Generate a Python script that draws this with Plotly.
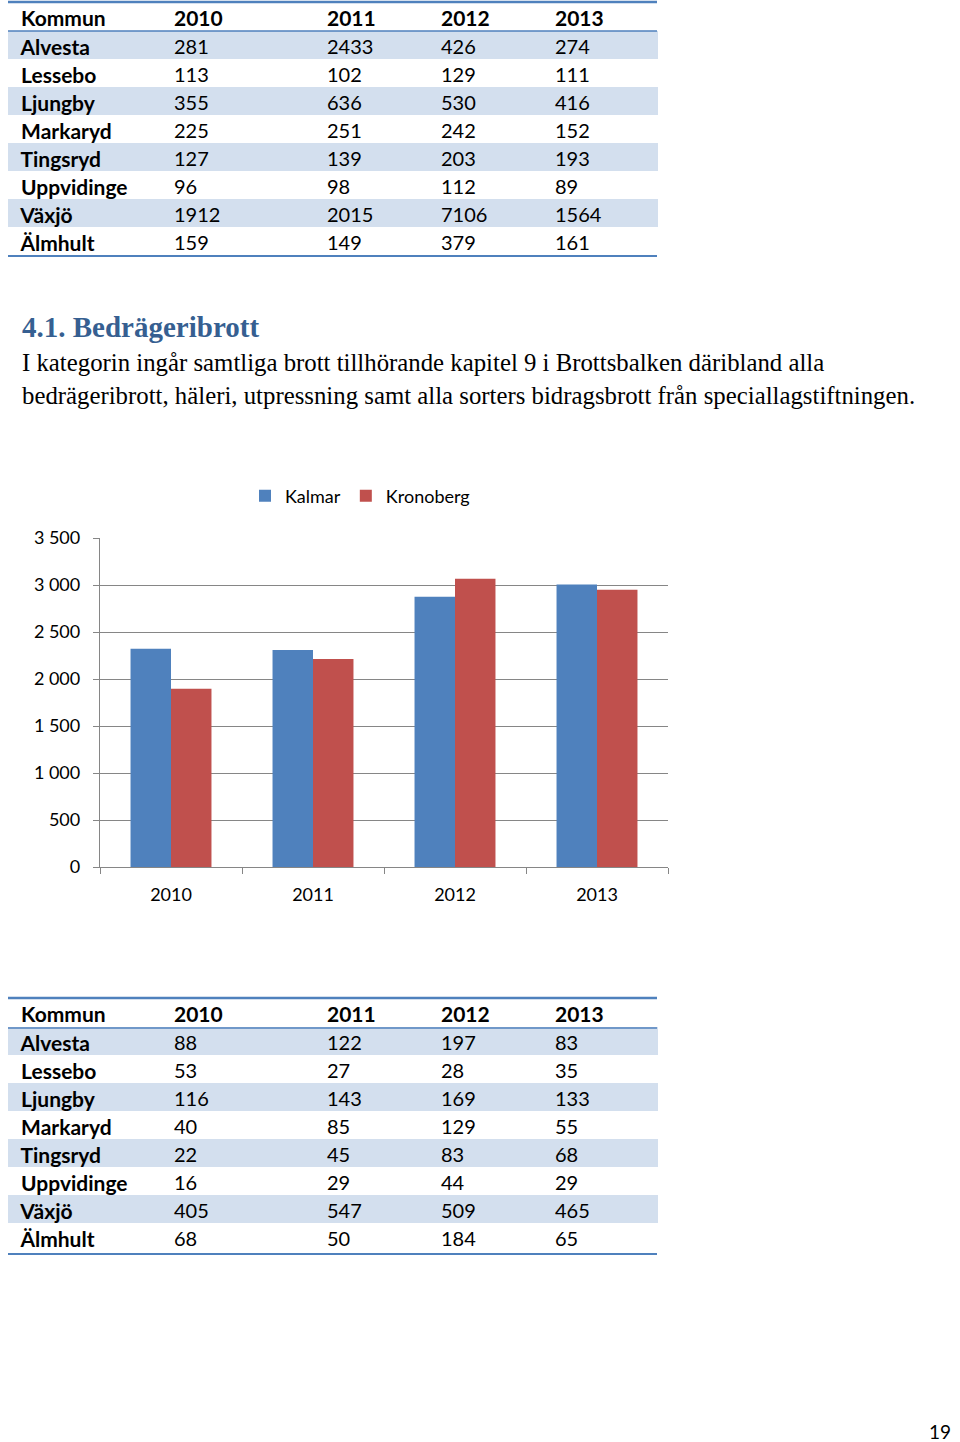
import plotly.graph_objects as go

# ---------------- data ----------------
kommuner = ["Alvesta", "Lessebo", "Ljungby", "Markaryd", "Tingsryd", "Uppvidinge", "Växjö", "Älmhult"]
header = ["Kommun", "2010", "2011", "2012", "2013"]

t1_2010 = [281, 113, 355, 225, 127, 96, 1912, 159]
t1_2011 = [2433, 102, 636, 251, 139, 98, 2015, 149]
t1_2012 = [426, 129, 530, 242, 203, 112, 7106, 379]
t1_2013 = [274, 111, 416, 152, 193, 89, 1564, 161]

t2_2010 = [88, 53, 116, 40, 22, 16, 405, 68]
t2_2011 = [122, 27, 143, 85, 45, 29, 547, 50]
t2_2012 = [197, 28, 169, 129, 83, 44, 509, 184]
t2_2013 = [83, 35, 133, 55, 68, 29, 465, 65]

years = ["2010", "2011", "2012", "2013"]
kalmar = [2323, 2309, 2876, 3004]
kronoberg = [1897, 2213, 3067, 2950]

heading = "4.1. Bedrägeribrott"
para1 = "I kategorin ingår samtliga brott tillhörande kapitel 9 i Brottsbalken däribland alla"
para2 = "bedrägeribrott, häleri, utpressning samt alla sorters bidragsbrott från speciallagstiftningen."
page_no = "19"

# ---------------- styling ----------------
W, H = 960, 1442
BLUE = "#4F81BD"
RED = "#C0504D"
BAND = "#D3DFEE"
GRID = "#868686"
SANS = "Lato"
SERIF = "Liberation Serif"


def py(pix):
    """pixel row from top -> paper fraction"""
    return 1 - pix / H


def px(pix):
    return pix / W


band_fill = [BAND if i % 2 == 0 else "white" for i in range(len(kommuner))]
colw = [158, 153, 114, 114, 110]
first_pad = ["\u00a0", "", "", "", ""]


def make_table(cols, top, bottom):
    return go.Table(
        domain=dict(x=[px(8), px(657)], y=[py(bottom), py(top)]),
        columnwidth=colw,
        header=dict(
            values=header,
            prefix=first_pad,
            align="left",
            height=29,
            fill=dict(color="white"),
            line=dict(color="white", width=0),
            font=dict(family=SANS, size=21, color="black", weight="bold"),
        ),
        cells=dict(
            values=[kommuner] + cols,
            prefix=first_pad,
            align="left",
            height=28,
            fill=dict(color=[band_fill] * 5),
            line=dict(color=[band_fill] * 5, width=1),
            font=dict(
                family=SANS,
                size=[21, 20, 20, 20, 20],
                color="black",
                weight=["bold", "normal", "normal", "normal", "normal"],
            ),
        ),
    )


fig = go.Figure()

fig.add_trace(make_table([t1_2010, t1_2011, t1_2012, t1_2013], 2, 262))
fig.add_trace(make_table([t2_2010, t2_2011, t2_2012, t2_2013], 998, 1258))

fig.add_trace(go.Bar(name="Kalmar", x=years, y=kalmar, marker=dict(color=BLUE, line=dict(width=0))))
fig.add_trace(go.Bar(name="Kronoberg", x=years, y=kronoberg, marker=dict(color=RED, line=dict(width=0))))

shapes = []
for (y, w) in [(2, 2.5), (31, 1.5), (256, 2), (998, 2.5), (1028, 1.5), (1254, 2)]:
    shapes.append(dict(type="line", xref="paper", yref="paper", x0=px(8), x1=px(657),
                       y0=py(y), y1=py(y), line=dict(color=BLUE, width=w)))

annotations = [
    dict(text=heading, x=px(20), y=py(327), xref="paper", yref="paper", xanchor="left",
         yanchor="middle", showarrow=False,
         font=dict(family=SERIF, size=29, color="#365F91", weight="bold")),
    dict(text=para1, x=px(20), y=py(362), xref="paper", yref="paper", xanchor="left",
         yanchor="middle", showarrow=False, font=dict(family=SERIF, size=24.8, color="black")),
    dict(text=para2, x=px(20), y=py(395), xref="paper", yref="paper", xanchor="left",
         yanchor="middle", showarrow=False, font=dict(family=SERIF, size=24.8, color="black")),
    dict(text=page_no, x=px(953), y=py(1431), xref="paper", yref="paper", xanchor="right",
         yanchor="middle", showarrow=False, font=dict(family=SANS, size=19, color="black")),
]

fig.update_layout(
    template="none",
    width=W,
    height=H,
    autosize=False,
    margin=dict(l=0, r=0, t=0, b=0, pad=0, autoexpand=False),
    paper_bgcolor="white",
    plot_bgcolor="white",
    separators=", ",
    barmode="group",
    bargap=0.43,
    bargroupgap=0,
    showlegend=True,
    legend=dict(
        orientation="h",
        x=px(245),
        y=py(496),
        xanchor="left",
        yanchor="middle",
        font=dict(family=SANS, size=18, color="black"),
        itemwidth=30,
        tracegroupgap=0,
        bgcolor="rgba(0,0,0,0)",
    ),
    xaxis=dict(
        domain=[px(100), px(668)],
        anchor="y",
        type="category",
        automargin=False,
        showgrid=False,
        showline=True,
        linecolor=GRID,
        linewidth=1.3,
        ticks="outside",
        tickson="boundaries",
        ticklen=6,
        tickcolor=GRID,
        ticklabelstandoff=11,
        tickfont=dict(family=SANS, size=18, color="black"),
        fixedrange=True,
    ),
    yaxis=dict(
        domain=[py(867), py(538)],
        anchor="x",
        range=[0, 3500],
        automargin=False,
        tickvals=[0, 500, 1000, 1500, 2000, 2500, 3000, 3500],
        tickformat=",d",
        showgrid=True,
        gridcolor=GRID,
        gridwidth=1.3,
        showline=True,
        linecolor=GRID,
        linewidth=1.3,
        ticks="outside",
        ticklen=6,
        tickcolor=GRID,
        ticklabelstandoff=9,
        zeroline=False,
        tickfont=dict(family=SANS, size=18, color="black"),
        fixedrange=True,
    ),
    shapes=shapes,
    annotations=annotations,
)

fig.write_html(
    "out.html",
    config={"displayModeBar": False},
    post_script="document.body.style.margin='0';",
)
